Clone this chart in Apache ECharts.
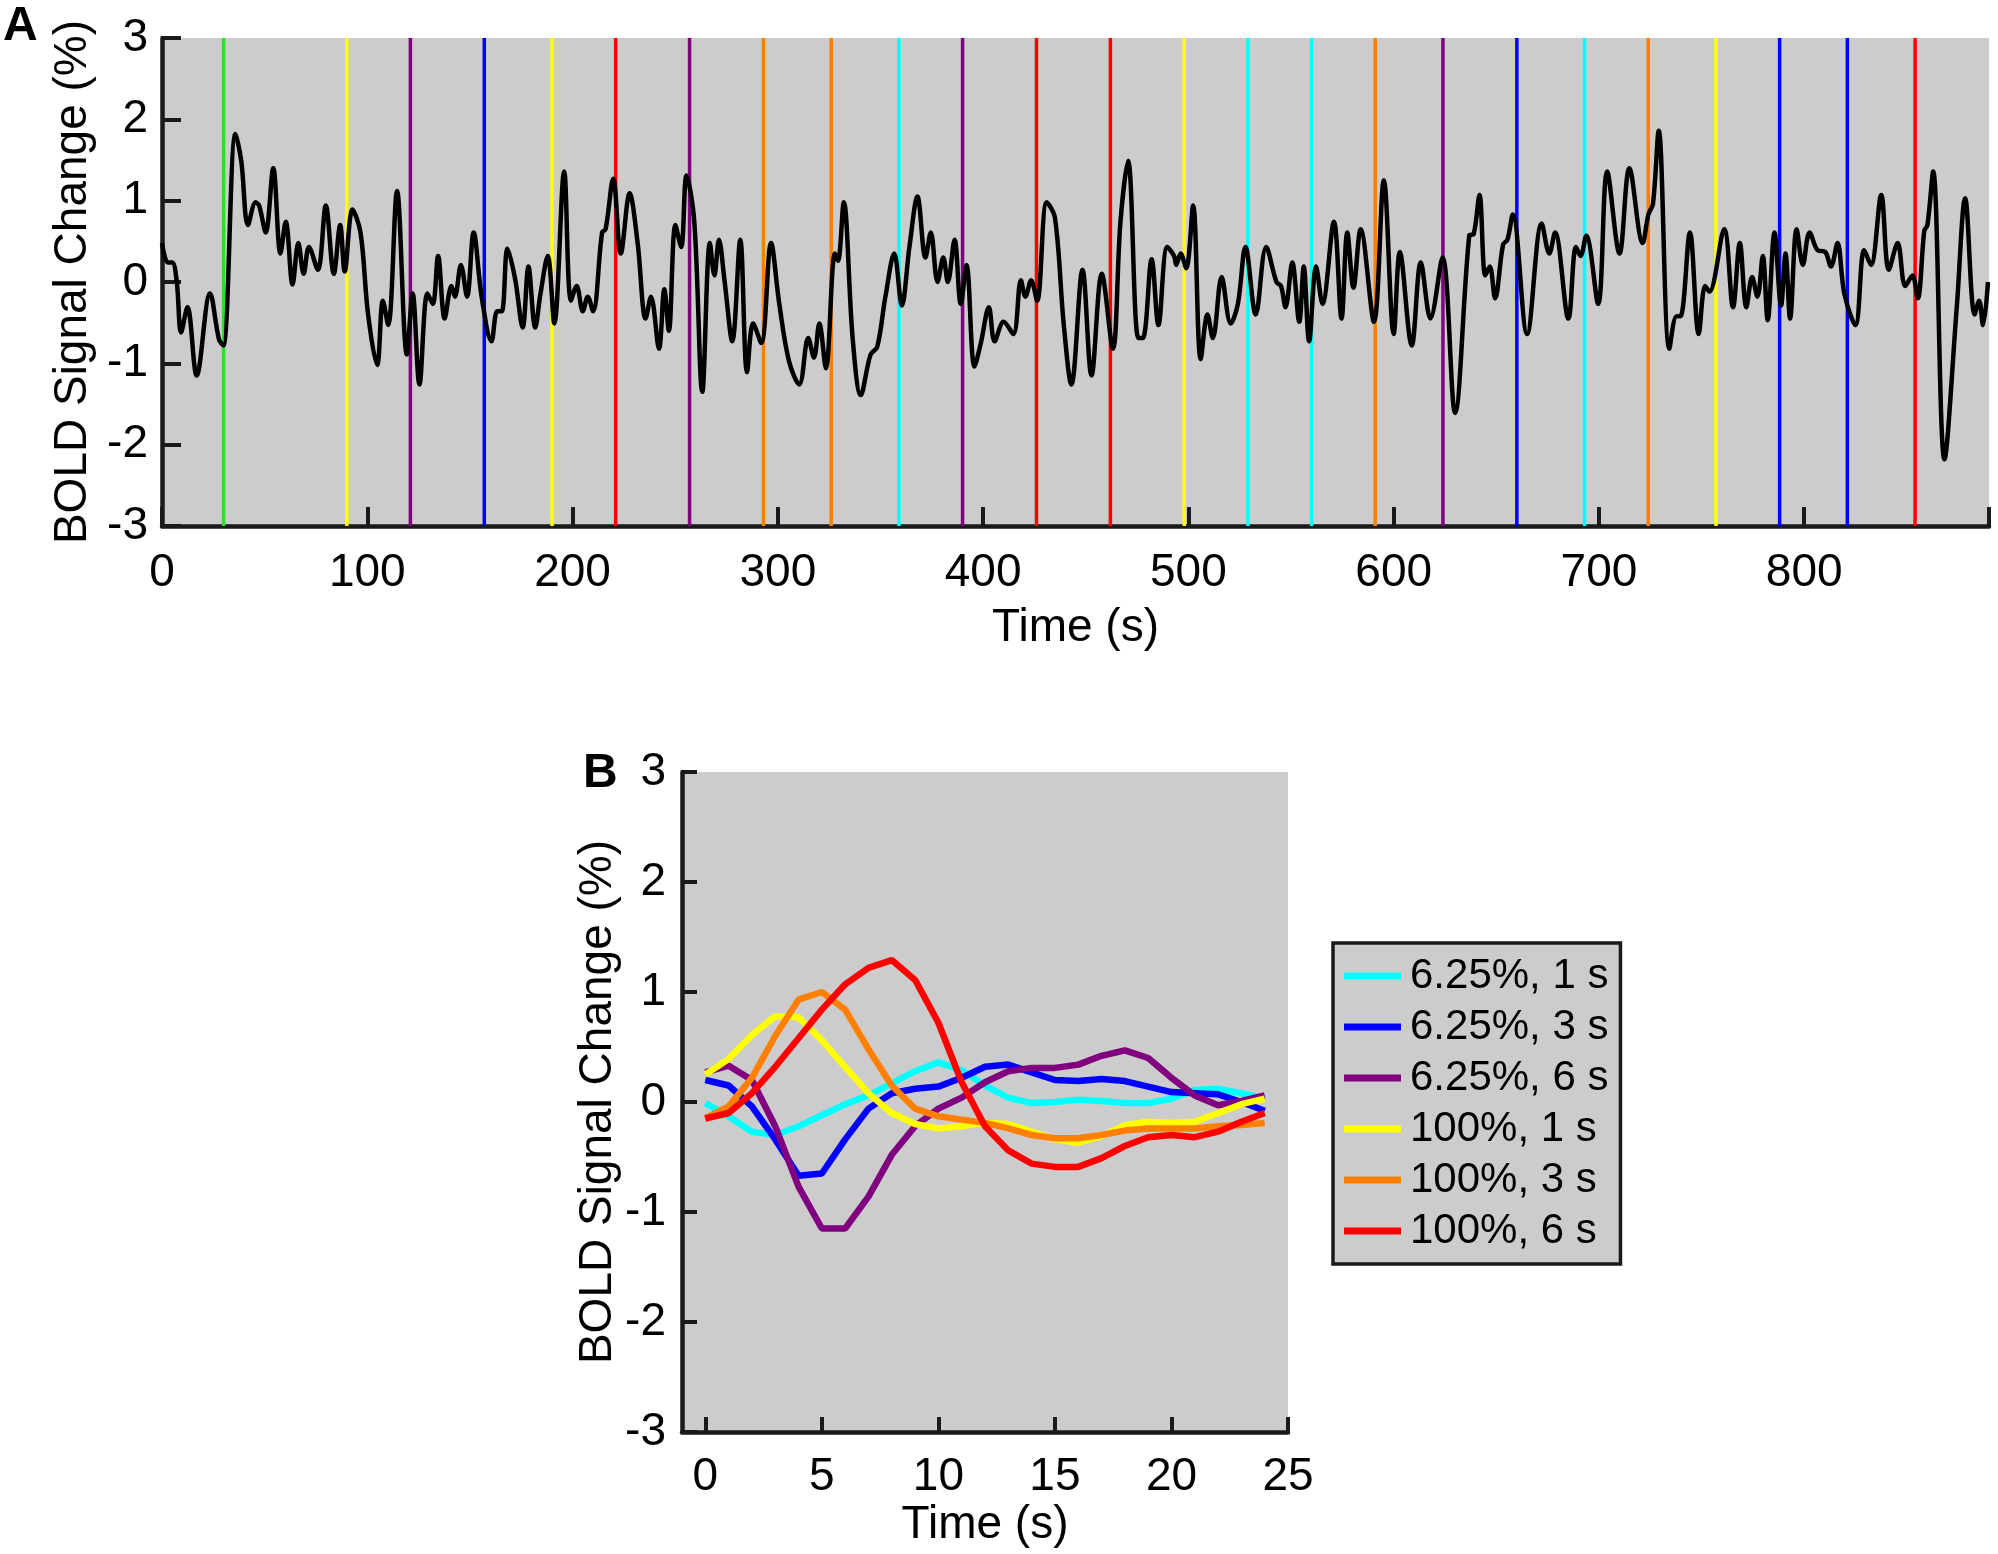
<!DOCTYPE html>
<html>
<head>
<meta charset="utf-8">
<title>BOLD signal</title>
<script src="https://cdn.jsdelivr.net/npm/echarts@6/dist/echarts.min.js"></script>
<style>
  html, body { margin: 0; padding: 0; background: #fff; }
  #chart { width: 1998px; height: 1554px; }
</style>
</head>
<body>
<div id="chart"></div>
<script>
// panel A: raw time course (s, %)
const signalTime = [
  0, 2.8, 5, 7.2, 9.3, 12.4, 16.9, 23.4, 27.8, 29.9, 35.8, 38.6, 41.9, 45.6, 47.3, 50.5, 54.2, 57.7, 60.3, 63.6,
  66.4, 69, 71.6, 75.9, 79.8, 83.7, 86.8, 89, 92.8, 96.7, 100.4, 104.8, 107.6, 110.2, 114.5, 119.3, 122.1, 125.4, 129.3, 131.9,
  134.5, 137.7, 141, 142.7, 145.6, 148.6, 151.8, 155.7, 160.5, 163.3, 165.5, 168.3, 172, 175.7, 178.5, 181.8, 184.4, 187.9, 191.1, 195.9,
  199.2, 202, 205, 207.4, 210, 214.4, 216.1, 219.8, 223.5, 227.8, 231.7, 235.6, 238.2, 242.1, 244.7, 246.9, 250.1, 252.9, 255.5, 259.3,
  263.2, 266.9, 269.1, 271.3, 274.1, 277.8, 281.7, 285, 288, 291.9, 296.7, 300.6, 305.4, 310.4, 314.8, 317.6, 320.2, 323.4, 327.8, 329.3,
  332.1, 336.5, 340.4, 345.2, 348.4, 352.4, 356.7, 360.4, 364.1, 368, 371.9, 374.5, 377.8, 380.6, 382.8, 386.1, 389.1, 391.9, 395.8, 398.9,
  402.8, 405.6, 410, 414.7, 418.4, 420.6, 423.4, 426.3, 431, 435, 439.3, 443, 448.4, 452.8, 457.8, 463.2, 466.9, 470.6, 475.6, 477.8,
  482.1, 485.4, 489.7, 493, 494.1, 496.2, 498.9, 502.3, 506, 509.3, 511.9, 516.2, 520.6, 524.1, 527.8, 532.8, 537.9, 542.9, 545.1, 547.3,
  550.6, 554, 556.2, 558.8, 562.2, 565.3, 570.9, 574.6, 577.4, 580.4, 583.9, 590.4, 595.2, 600, 603, 608.8, 613.2, 617.9, 623.8, 629.9,
  636.8, 639, 641.8, 644.6, 646.8, 649.4, 653.3, 655.4, 658, 665, 672.1, 675.8, 678.6, 685.1, 688.8, 691, 693.8, 699.6, 704, 710,
  714.8, 721.3, 724.1, 726.3, 729.1, 734.3, 737.8, 739.7, 744.3, 748.6, 751.7, 753.8, 761, 765.3, 768.6, 771.8, 774.6, 777.2, 779.8, 782.2,
  785.5, 788.7, 790.9, 793.1, 796.3, 799.3, 802.6, 806.5, 810.2, 813, 816.2, 819.5, 824.9, 829.2, 832.5, 837.5, 841.2, 845.5, 849.2, 852.7,
  855.3, 858.5, 860, 862.8, 868.3, 874.3, 878.4, 883, 885.2, 887.1, 889.5
];
const signalValue = [
  0.48, 0.24, 0.24, 0.0, -0.62, -0.31, -1.15, -0.14, -0.71, -0.78, 1.82, 1.49, 0.70, 0.98, 0.94, 0.61, 1.40, 0.35, 0.74, -0.03,
  0.48, 0.10, 0.43, 0.15, 0.94, 0.10, 0.70, 0.13, 0.89, 0.61, -0.40, -1.02, -0.23, -0.53, 1.12, -0.89, -0.14, -1.26, -0.14, -0.27,
  0.32, -0.45, -0.05, -0.18, 0.21, -0.18, 0.61, -0.18, -0.73, -0.36, -0.36, 0.41, 0.04, -0.56, 0.19, -0.56, -0.14, 0.32, -0.51, 1.36,
  -0.23, -0.05, -0.36, -0.18, -0.36, 0.61, 0.65, 1.27, 0.35, 1.09, 0.48, -0.45, -0.18, -0.82, -0.09, -0.60, 0.70, 0.43, 1.31, 0.74,
  -1.35, 0.48, 0.08, 0.52, 0.0, -0.73, 0.52, -1.11, -0.51, -0.75, 0.48, -0.25, -0.97, -1.26, -0.69, -0.93, -0.51, -1.06, 0.35, 0.26,
  0.98, -0.71, -1.39, -0.89, -0.80, -0.18, 0.35, -0.29, 0.43, 1.05, 0.30, 0.61, 0.0, 0.30, 0.0, 0.52, -0.27, 0.21, -1.04, -0.75,
  -0.31, -0.73, -0.49, -0.64, 0.02, -0.18, 0.02, -0.23, 0.98, 0.79, -0.53, -1.26, 0.15, -1.15, 0.10, -0.82, 0.74, 1.49, -0.69, -0.69,
  0.28, -0.53, 0.43, 0.32, 0.21, 0.35, 0.17, 0.94, -0.95, -0.40, -0.69, 0.06, -0.51, -0.27, 0.43, -0.40, 0.43, 0.0, -0.05, -0.31,
  0.24, -0.49, 0.19, -0.73, 0.19, -0.27, 0.74, -0.45, 0.61, -0.07, 0.65, -0.49, 1.25, -0.64, 0.37, -0.78, 0.24, -0.45, 0.30, -1.61,
  0.57, 0.59, 1.07, 0.08, 0.19, -0.20, 0.46, 0.52, 0.83, -0.64, 0.72, 0.35, 0.61, -0.45, 0.43, 0.32, 0.57, -0.27, 1.36, 0.35,
  1.40, 0.48, 0.83, 0.96, 1.86, -0.82, -0.42, -0.42, 0.61, -0.64, -0.05, -0.12, 0.65, -0.31, 0.48, -0.31, 0.06, -0.18, 0.32, -0.47,
  0.61, -0.29, 0.35, -0.45, 0.65, 0.21, 0.61, 0.39, 0.37, 0.19, 0.48, -0.14, -0.53, 0.39, 0.21, 1.07, 0.15, 0.48, -0.05, 0.08,
  -0.20, 0.63, 0.70, 1.36, -2.18, -0.31, 1.03, -0.40, -0.23, -0.53, 0.0
];

// stimulus onsets (s) and their colours
const onsetTime = [30, 90, 121, 157, 190, 221, 257, 293, 326, 359, 390, 426, 462, 498, 529, 560, 591, 624, 660, 693, 724, 757, 788, 821, 854];
const onsetColor = ['#22e622', '#ffff00', '#800080', '#0000ff', '#ffff00', '#ff0000', '#800080', '#ff8000', '#ff8000', '#00ffff',
  '#800080', '#ff0000', '#ff0000', '#ffff00', '#00ffff', '#00ffff', '#ff8000', '#800080', '#0000ff', '#00ffff',
  '#ff8000', '#ffff00', '#0000ff', '#0000ff', '#ff0000'];

// panel B: mean responses per condition
const hrfTime = [0, 1, 2, 3, 4, 5, 6, 7, 8, 9, 10, 11, 12, 13, 14, 15, 16, 17, 18, 19, 20, 21, 22, 23, 24];
const conditionNames = ['6.25%, 1 s', '6.25%, 3 s', '6.25%, 6 s', '100%, 1 s', '100%, 3 s', '100%, 6 s'];
const conditionColors = ['#00ffff', '#0000ff', '#800080', '#ffff00', '#ff8000', '#ff0000'];
const low1s = [-0.01, -0.13, -0.27, -0.30, -0.22, -0.12, -0.02, 0.06, 0.17, 0.28, 0.36, 0.29, 0.15, 0.04, -0.01, 0.0, 0.02, 0.01, -0.01, -0.01, 0.03, 0.11, 0.12, 0.08, 0.03];
const low3s = [0.20, 0.15, -0.04, -0.34, -0.67, -0.65, -0.34, -0.06, 0.08, 0.12, 0.14, 0.22, 0.32, 0.34, 0.27, 0.20, 0.19, 0.21, 0.19, 0.14, 0.09, 0.08, 0.07, 0.0, -0.08];
const low6s = [0.27, 0.33, 0.20, -0.22, -0.77, -1.15, -1.15, -0.86, -0.48, -0.22, -0.06, 0.04, 0.18, 0.28, 0.31, 0.31, 0.34, 0.42, 0.47, 0.40, 0.22, 0.06, -0.03, 0.01, 0.06];
const high1s = [0.25, 0.39, 0.61, 0.78, 0.77, 0.56, 0.32, 0.08, -0.10, -0.20, -0.24, -0.22, -0.19, -0.20, -0.27, -0.34, -0.37, -0.31, -0.21, -0.18, -0.19, -0.18, -0.10, -0.02, 0.03];
const high3s = [-0.15, -0.04, 0.22, 0.60, 0.93, 1.00, 0.84, 0.48, 0.15, -0.06, -0.13, -0.16, -0.19, -0.24, -0.30, -0.33, -0.33, -0.30, -0.26, -0.24, -0.24, -0.24, -0.22, -0.21, -0.19];
const high6s = [-0.15, -0.10, 0.08, 0.32, 0.58, 0.84, 1.07, 1.22, 1.29, 1.11, 0.72, 0.18, -0.22, -0.44, -0.56, -0.59, -0.59, -0.51, -0.40, -0.32, -0.30, -0.32, -0.27, -0.18, -0.10];
const conditionValues = [low1s, low3s, low6s, high1s, high3s, high6s];

const xTicksB = [0, 5, 10, 15, 20, 25];

const FONT = 'Liberation Sans, Arial, Helvetica, sans-serif';
const INK = '#1a1a1a';

function axisCommon(extra) {
  return Object.assign({
    axisLine: { show: true, onZero: false, lineStyle: { color: INK, width: 4.5 } },
    axisTick: { show: true, inside: true, length: 19, lineStyle: { color: INK, width: 4 } },
    axisLabel: { color: '#000', fontSize: 46, fontFamily: FONT },
    splitLine: { show: false },
    nameLocation: 'middle',
    nameTextStyle: { color: '#000', fontSize: 46, fontFamily: FONT }
  }, extra);
}

var chart = echarts.init(document.getElementById('chart'), null, { renderer: 'canvas' });

var series = [];
// coloured onset markers, drawn under the trace
onsetTime.forEach(function (t, i) {
  series.push({
    type: 'line', xAxisIndex: 0, yAxisIndex: 0, z: 1,
    data: [[t, -3], [t, 3]],
    symbol: 'none', silent: true,
    lineStyle: { color: onsetColor[i], width: 3.5 }
  });
});
series.push({
  type: 'line', xAxisIndex: 0, yAxisIndex: 0, z: 3,
  data: signalTime.map(function (t, i) { return [t, signalValue[i]]; }),
  symbol: 'none', smooth: 0.35, silent: true,
  lineStyle: { color: '#000', width: 4.5 }
});
conditionNames.forEach(function (name, i) {
  series.push({
    name: name, type: 'line', xAxisIndex: 1, yAxisIndex: 1, z: 3,
    data: hrfTime.map(function (t, k) { return [t, conditionValues[i][k]]; }),
    symbol: 'none', silent: true,
    itemStyle: { color: conditionColors[i] },
    lineStyle: { color: conditionColors[i], width: 6.5 }
  });
});

chart.setOption({
  animation: false,
  backgroundColor: '#ffffff',
  textStyle: { fontFamily: FONT },
  grid: [
    { left: 162, top: 38, width: 1827, height: 488, show: true, backgroundColor: '#cccccc', borderWidth: 0 },
    { left: 682, top: 772, width: 606, height: 660, show: true, backgroundColor: '#cccccc', borderWidth: 0 }
  ],
  xAxis: [
    axisCommon({ gridIndex: 0, type: 'value', min: 0, max: 890, interval: 100, name: 'Time (s)', nameGap: 79,
      axisLabel: { color: '#000', fontSize: 46, fontFamily: FONT, margin: 24,
        formatter: function (v) { return v > 850 ? '' : v; } } }),
    axisCommon({ gridIndex: 1, type: 'value', min: -1, max: 25, name: 'Time (s)', nameGap: 70,
      axisTick: { show: true, inside: true, length: 15, customValues: xTicksB, lineStyle: { color: INK, width: 4 } },
      axisLabel: { color: '#000', fontSize: 46, fontFamily: FONT, margin: 22, customValues: xTicksB } })
  ],
  yAxis: [
    axisCommon({ gridIndex: 0, type: 'value', min: -3, max: 3, interval: 1, name: 'BOLD Signal Change (%)', nameGap: 60,
      axisLabel: { color: '#000', fontSize: 46, fontFamily: FONT, margin: 14 } }),
    axisCommon({ gridIndex: 1, type: 'value', min: -3, max: 3, interval: 1, name: 'BOLD Signal Change (%)', nameGap: 58,
      axisTick: { show: true, inside: true, length: 15, lineStyle: { color: INK, width: 4 } },
      axisLabel: { color: '#000', fontSize: 46, fontFamily: FONT, margin: 16 } })
  ],
  legend: {
    data: conditionNames,
    orient: 'vertical',
    left: 1333, top: 943,
    backgroundColor: '#cccccc',
    borderColor: INK, borderWidth: 3.5,
    padding: [12, 12, 12, 11],
    icon: 'rect',
    itemWidth: 57, itemHeight: 7, itemGap: 9,
    selectedMode: false,
    textStyle: { color: '#000', fontSize: 42, fontFamily: FONT, padding: [0, 0, 0, 4] }
  },
  graphic: [
    { type: 'text', left: 3, top: 3, style: { text: 'A', fill: '#000', font: 'bold 48px ' + FONT } },
    { type: 'text', left: 583, top: 750, style: { text: 'B', fill: '#000', font: 'bold 48px ' + FONT } }
  ],
  series: series
});
</script>
</body>
</html>
